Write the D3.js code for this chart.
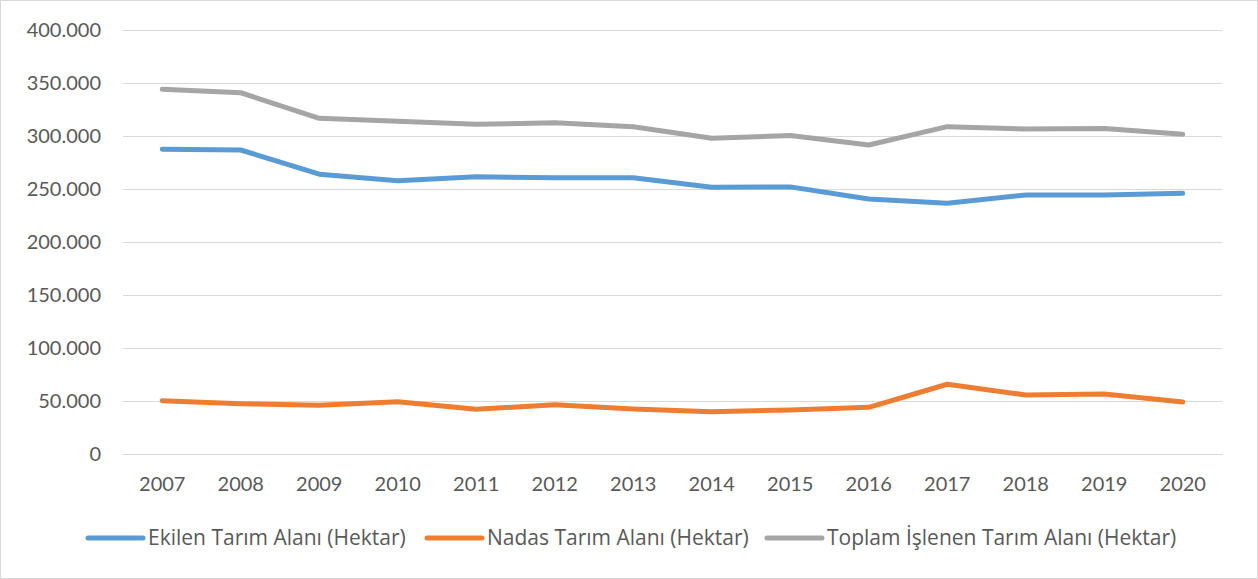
<!DOCTYPE html>
<html>
<head>
<meta charset="utf-8">
<script src="https://cdn.jsdelivr.net/npm/d3@7"></script>
<style>
  html, body { margin:0; padding:0; background:#fff; }
  svg { display:block; font-family: Lato, "Open Sans", sans-serif; }
</style>
</head>
<body>
<svg id="chart" width="1258" height="579"></svg>
<script>
// ===== data =====
const years   = ["2007","2008","2009","2010","2011","2012","2013","2014","2015","2016","2017","2018","2019","2020"];
const ekilen  = [287500,286800,264000,257800,261500,260700,260700,251600,252000,240600,236500,244300,244300,245900];
const nadas   = [50300,47500,45900,49300,42200,46500,42500,39900,41500,44000,65800,55700,56600,49000];
const toplam  = [344000,340800,316700,314000,311000,312500,308800,297800,300500,291500,308800,306600,307000,301600];
const yTicks  = [0,50000,100000,150000,200000,250000,300000,350000,400000];
const seriesNames = ["Ekilen Tarım Alanı (Hektar)","Nadas Tarım Alanı (Hektar)","Toplam İşlenen Tarım Alanı (Hektar)"];
const colors  = ["#5b9bd5","#ed7d31","#a5a5a5"];

// ===== setup =====
const W = 1258, H = 579;
const M = {top:30, right:36, bottom:125, left:123};
const svg = d3.select("#chart");

svg.append("rect")
  .attr("x",0.5).attr("y",0.5).attr("width",W-1).attr("height",H-1)
  .attr("fill","#fff").attr("stroke","#d9d9d9");

const x = d3.scaleBand().domain(years).range([M.left, W - M.right]);
const y = d3.scaleLinear().domain([0,400000]).range([H - M.bottom, M.top]);

const loc = d3.formatLocale({decimal:",", thousands:".", grouping:[3], currency:["","₺"]});
const fmt = loc.format(",.0f");

// grid
const gridG = svg.append("g")
  .attr("transform",`translate(${M.left},0)`)
  .call(d3.axisLeft(y).tickValues(yTicks).tickSize(-(W - M.right - M.left)).tickFormat(""));
gridG.select(".domain").remove();
gridG.selectAll("line").attr("stroke","#d9d9d9").attr("stroke-width",1);

// y labels
const yAx = svg.append("g")
  .attr("transform",`translate(${M.left},0)`)
  .call(d3.axisLeft(y).tickValues(yTicks).tickSize(0).tickPadding(22).tickFormat(fmt));
yAx.select(".domain").remove();
yAx.selectAll("text").attr("fill","#595959").style("font-size","20px").style("font-family","Lato, sans-serif");

// x labels
const xAx = svg.append("g")
  .attr("transform",`translate(0,${H - M.bottom})`)
  .call(d3.axisBottom(x).tickSize(0).tickPadding(23));
xAx.select(".domain").attr("stroke","#d9d9d9");
xAx.selectAll("text").attr("fill","#595959").style("font-size","20px").style("font-family","Lato, sans-serif");

// lines
const line = d3.line()
  .x((d,i) => x(years[i]) + x.bandwidth()/2)
  .y(d => y(d));

[ekilen, nadas, toplam].forEach((s,k) => {
  svg.append("path")
    .attr("d", line(s))
    .attr("fill","none")
    .attr("stroke",colors[k])
    .attr("stroke-width",5)
    .attr("stroke-linejoin","round")
    .attr("stroke-linecap","round");
});

// legend
const legX = [88, 427, 767];
const legY = 538;
const leg = svg.append("g");
seriesNames.forEach((n,k) => {
  leg.append("line")
    .attr("x1",legX[k]).attr("x2",legX[k]+55)
    .attr("y1",legY).attr("y2",legY)
    .attr("stroke",colors[k]).attr("stroke-width",5).attr("stroke-linecap","round");
  leg.append("text")
    .attr("x",legX[k]+60).attr("y",legY)
    .attr("dy","0.35em")
    .attr("fill","#595959")
    .style("font-family","'Open Sans', sans-serif")
    .style("font-size","21px")
    .text(n);
});
</script>
</body>
</html>
